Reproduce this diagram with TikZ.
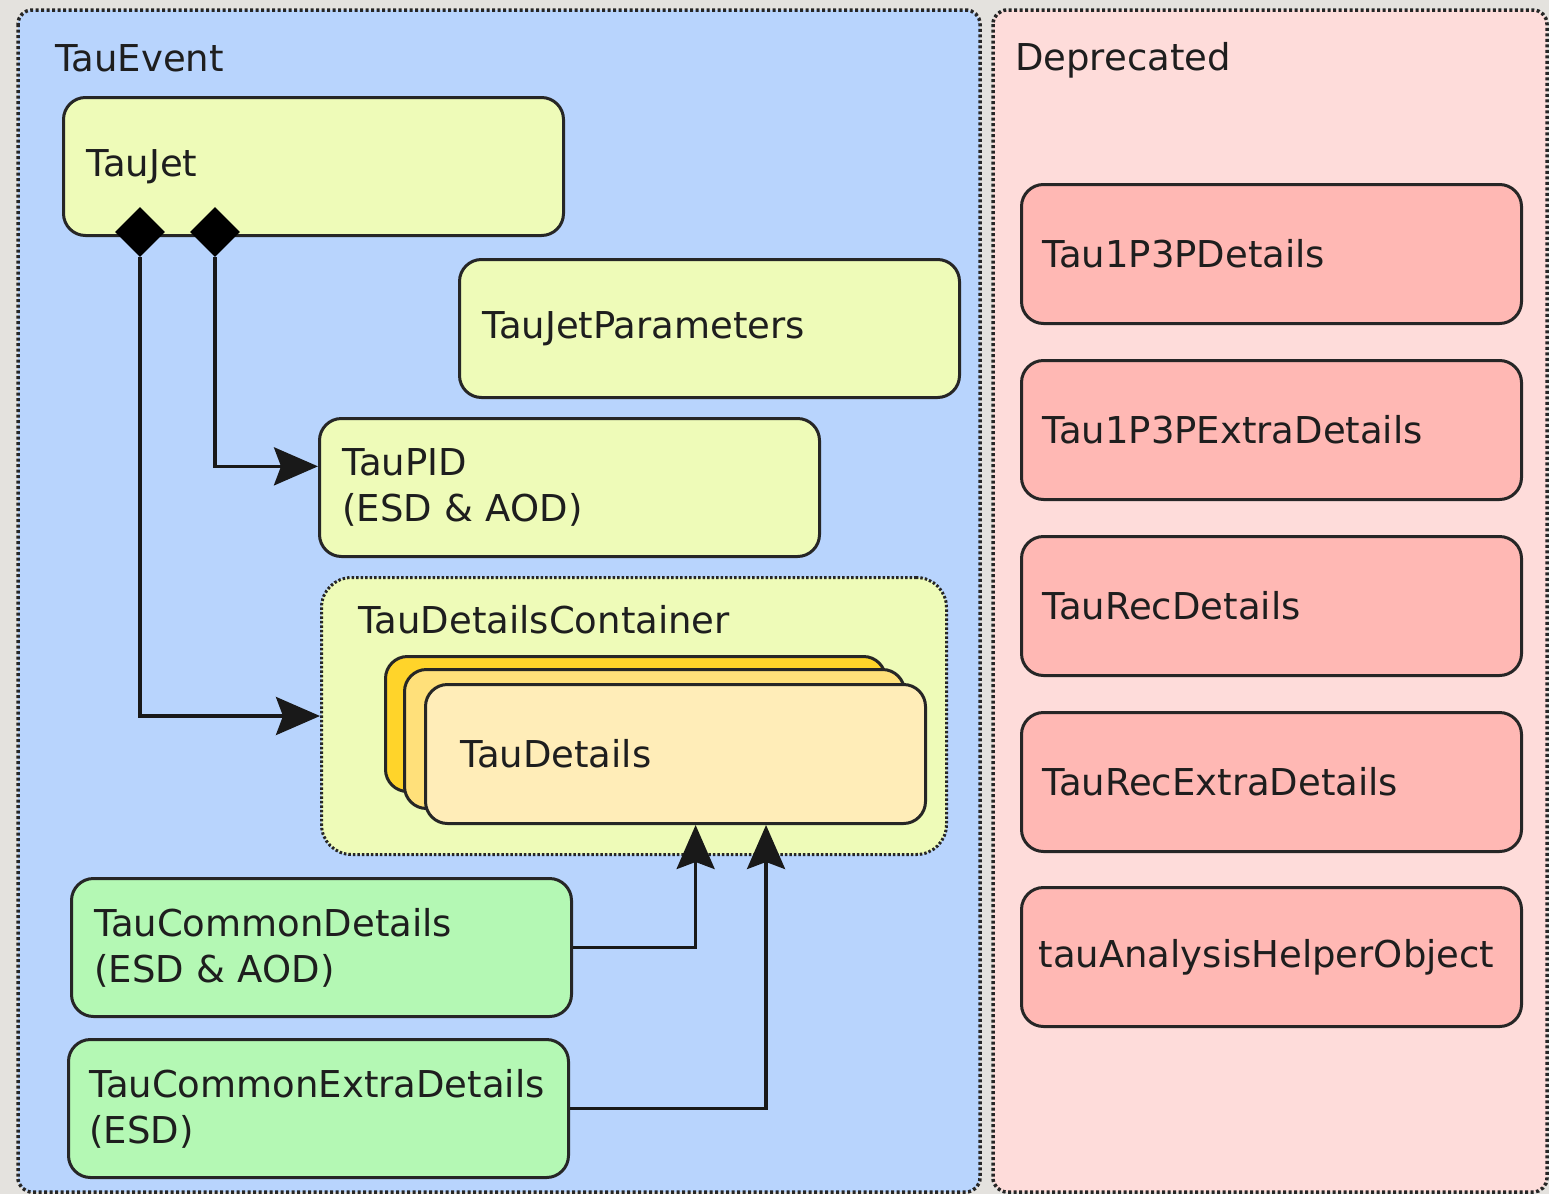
\documentclass[tikz,border=0pt]{standalone}
\usepackage{fontspec}
\setmainfont{DejaVu Sans}
\usetikzlibrary{arrows.meta,shapes.geometric,calc}
\definecolor{bggray}{HTML}{E4E2DE}
\definecolor{panelblue}{HTML}{B8D4FD}
\definecolor{panelpink}{HTML}{FEDCDA}
\definecolor{boxyellow}{HTML}{EEFBB8}
\definecolor{boxgreen}{HTML}{B4F8B4}
\definecolor{boxpink}{HTML}{FFB8B4}
\definecolor{gold1}{HTML}{FFD42A}
\definecolor{gold2}{HTML}{FFE07A}
\definecolor{gold3}{HTML}{FFEDB8}
\definecolor{txt}{HTML}{1E1E1E}
\newcommand\dfont{\fontsize{37}{46}\selectfont}
\begin{document}
\begin{tikzpicture}[x=1pt,y=-1pt,
  panel/.style={draw=black!85, line width=3.5pt, dash pattern=on 3pt off 2.5pt, rounded corners=14pt},
  box/.style={draw=black!85, line width=3pt, rounded corners=22pt, minimum width=500pt, minimum height=138pt,
    anchor=north west, align=left, text width=454pt, inner xsep=23pt, inner ysep=0pt, font=\dfont, text=txt},
  pbox/.style={box, fill=boxpink, minimum height=139pt, inner xsep=21pt, text width=458pt},
  lbl/.style={anchor=west, font=\dfont, text=txt, inner sep=0pt},
  conn/.style={line width=3.5pt, draw=black!90, -{Stealth[length=44pt,width=38pt,inset=7pt]}},
  dia/.style={diamond, fill=black, inner sep=0pt, minimum width=50pt, minimum height=50pt}]
\useasboundingbox (0,0) rectangle (1549,1194);
\fill[bggray] (0,0) rectangle (1549,1194);
% panels
\draw[panel, fill=panelblue] (18,10) rectangle (980,1192);
\draw[panel, fill=panelpink] (993,10) rectangle (1547,1192);
\node[lbl] (tauevent) at (55,58) {TauEvent};
\node[lbl] (deprecated) at (1015,60) {Deprecated};
% left side boxes
\node[box, fill=boxyellow] (tj) at (62,96) {TauJet};
\node[box, fill=boxyellow] (tjp) at (458,258) {TauJetParameters};
\node[box, fill=boxyellow] (tp) at (318,417) {TauPID\\(ESD \& AOD)};
\node[draw=black!85, line width=3pt, dash pattern=on 2.5pt off 2pt, rounded corners=30pt, fill=boxyellow,
  anchor=north west, minimum width=625pt, minimum height=277pt] (tdc) at (320,576) {};
\node[lbl] (tdclabel) at (358,620) {TauDetailsContainer};
\node[box, fill=gold1, minimum width=499pt, minimum height=135pt] (td3) at (384,655) {};
\node[box, fill=gold2, minimum width=497pt, minimum height=139pt] (td2) at (403,668) {};
\node[box, fill=gold3, minimum height=139pt, inner xsep=35pt, text width=430pt] (td) at (424,683) {TauDetails};
\node[box, fill=boxgreen] (tcd) at (70,877) {TauCommonDetails\\(ESD \& AOD)};
\node[box, fill=boxgreen, inner xsep=21pt, text width=458pt] (tced) at (67,1038) {TauCommonExtraDetails\\(ESD)};
% deprecated boxes
\node[pbox] (p1) at (1020,183) {Tau1P3PDetails};
\node[pbox] (p2) at (1020,359) {Tau1P3PExtraDetails};
\node[pbox] (p3) at (1020,535) {TauRecDetails};
\node[pbox] (p4) at (1020,711) {TauRecExtraDetails};
\node[pbox, inner xsep=17pt, text width=466pt] (p5) at (1020,886) {tauAnalysisHelperObject};
% composition diamonds
\node[dia] (d1) at (140,232) {};
\node[dia] (d2) at (215,232) {};
% connectors
\draw[conn] (d1.south) |- (tdc.west);
\draw[conn] (d2.south) |- ($(tp.north west)!0.35!(tp.south west)$);
\draw[conn] (tcd.east) -| ($(td.south west)!0.54!(td.south east)$);
\draw[conn] (tced.east) -| ($(td.south west)!0.68!(td.south east)$);
\end{tikzpicture}
\end{document}
